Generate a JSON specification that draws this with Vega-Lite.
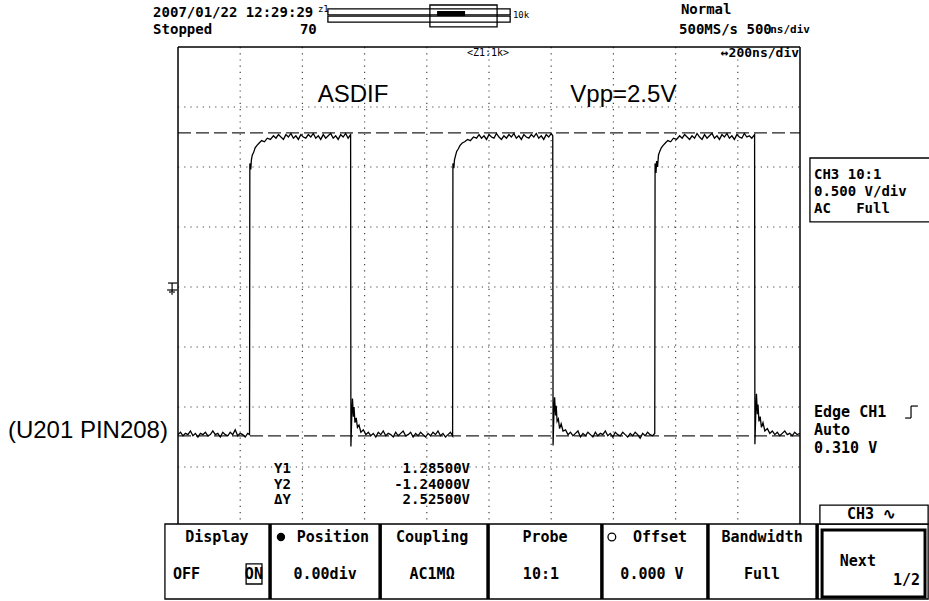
{
  "$schema": "https://vega.github.io/schema/vega-lite/v6.json",
  "width": 622,
  "height": 480,
  "autosize": {"type": "none"},
  "padding": {"left": 178, "top": 47, "right": 129, "bottom": 74},
  "background": "white",
  "config": {"view": {"stroke": null}, "text": {"font": "DejaVu Sans Mono", "fontWeight": "bold", "baseline": "middle", "fontSize": 14, "color": "black"}},
  "datasets": {
    "hgrid": [{"t":0,"t2":2000,"v":1.5},{"t":0,"t2":2000,"v":1},{"t":0,"t2":2000,"v":0.5},{"t":0,"t2":2000,"v":0},{"t":0,"t2":2000,"v":-0.5},{"t":0,"t2":2000,"v":-1},{"t":0,"t2":2000,"v":-1.5}],
    "vgrid": [{"t":200,"v":2,"v2":-2},{"t":400,"v":2,"v2":-2},{"t":600,"v":2,"v2":-2},{"t":800,"v":2,"v2":-2},{"t":1000,"v":2,"v2":-2},{"t":1200,"v":2,"v2":-2},{"t":1400,"v":2,"v2":-2},{"t":1600,"v":2,"v2":-2},{"t":1800,"v":2,"v2":-2}],
    "cursors": [{"t":0,"t2":2000,"v":1.285},{"t":0,"t2":2000,"v":-1.24}],
    "frame": [{"t":0,"t2":2000,"v":2,"v2":2},{"t":0,"t2":0,"v":2,"v2":-1.975},{"t":2000,"t2":2000,"v":2,"v2":-1.975}],
    "wave": [
      {"t":0,"v":-1.23},{"t":8,"v":-1.21},{"t":16,"v":-1.24},{"t":24,"v":-1.22},{"t":32,"v":-1.23},{"t":40,"v":-1.20},{"t":48,"v":-1.24},{"t":56,"v":-1.22},{"t":64,"v":-1.25},{"t":72,"v":-1.22},{"t":80,"v":-1.23},{"t":88,"v":-1.21},{"t":96,"v":-1.24},{"t":104,"v":-1.23},{"t":112,"v":-1.20},{"t":120,"v":-1.23},{"t":128,"v":-1.22},{"t":136,"v":-1.25},{"t":144,"v":-1.21},{"t":152,"v":-1.23},{"t":160,"v":-1.24},{"t":168,"v":-1.21},{"t":176,"v":-1.23},{"t":184,"v":-1.19},{"t":192,"v":-1.24},{"t":200,"v":-1.22},{"t":208,"v":-1.23},{"t":216,"v":-1.25},{"t":224,"v":-1.22},{"t":230,"v":-1.23},
      {"t":231,"v":1.03},{"t":234,"v":0.98},{"t":236,"v":1.06},{"t":239,"v":1.10},{"t":243,"v":1.12},{"t":248,"v":1.16},{"t":254,"v":1.18},{"t":261,"v":1.20},{"t":269,"v":1.22},{"t":278,"v":1.21},{"t":287,"v":1.24},{"t":297,"v":1.23},{"t":307,"v":1.26},
      {"t":315,"v":1.24},{"t":323,"v":1.27},{"t":331,"v":1.25},{"t":339,"v":1.23},{"t":347,"v":1.27},{"t":355,"v":1.25},{"t":363,"v":1.28},{"t":371,"v":1.24},{"t":379,"v":1.26},{"t":387,"v":1.23},{"t":395,"v":1.27},{"t":403,"v":1.25},{"t":411,"v":1.24},{"t":419,"v":1.27},{"t":427,"v":1.25},{"t":435,"v":1.28},{"t":443,"v":1.24},{"t":451,"v":1.26},{"t":459,"v":1.23},{"t":467,"v":1.27},{"t":475,"v":1.24},{"t":483,"v":1.26},{"t":491,"v":1.28},{"t":499,"v":1.24},{"t":507,"v":1.26},{"t":515,"v":1.23},{"t":523,"v":1.27},{"t":531,"v":1.25},{"t":539,"v":1.28},{"t":547,"v":1.24},{"t":555,"v":1.27},
      {"t":556,"v":-1.33},{"t":559,"v":-1.05},{"t":561,"v":-0.93},{"t":564,"v":-1.08},{"t":566,"v":-1.00},{"t":569,"v":-1.13},{"t":573,"v":-1.09},{"t":577,"v":-1.17},{"t":582,"v":-1.15},{"t":588,"v":-1.21},{"t":596,"v":-1.19},{"t":604,"v":-1.23},
      {"t":612,"v":-1.21},{"t":620,"v":-1.24},{"t":628,"v":-1.22},{"t":636,"v":-1.25},{"t":644,"v":-1.21},{"t":652,"v":-1.23},{"t":660,"v":-1.20},{"t":668,"v":-1.24},{"t":676,"v":-1.22},{"t":684,"v":-1.23},{"t":692,"v":-1.25},{"t":700,"v":-1.21},{"t":708,"v":-1.24},{"t":716,"v":-1.22},{"t":724,"v":-1.20},{"t":732,"v":-1.24},{"t":740,"v":-1.23},{"t":748,"v":-1.21},{"t":756,"v":-1.25},{"t":764,"v":-1.22},{"t":772,"v":-1.24},{"t":780,"v":-1.21},{"t":788,"v":-1.23},{"t":796,"v":-1.25},{"t":804,"v":-1.22},{"t":812,"v":-1.24},{"t":820,"v":-1.21},{"t":828,"v":-1.23},{"t":836,"v":-1.20},{"t":844,"v":-1.24},{"t":852,"v":-1.22},{"t":860,"v":-1.25},{"t":868,"v":-1.23},{"t":876,"v":-1.21},{"t":883,"v":-1.24},
      {"t":884,"v":1.03},{"t":887,"v":0.99},{"t":889,"v":1.06},{"t":892,"v":1.09},{"t":896,"v":1.13},{"t":901,"v":1.15},{"t":907,"v":1.18},{"t":914,"v":1.20},{"t":922,"v":1.21},{"t":931,"v":1.23},{"t":940,"v":1.22},{"t":950,"v":1.25},{"t":960,"v":1.24},
      {"t":968,"v":1.27},{"t":976,"v":1.24},{"t":984,"v":1.26},{"t":992,"v":1.23},{"t":1000,"v":1.27},{"t":1008,"v":1.25},{"t":1016,"v":1.24},{"t":1024,"v":1.28},{"t":1032,"v":1.25},{"t":1040,"v":1.23},{"t":1048,"v":1.26},{"t":1056,"v":1.24},{"t":1064,"v":1.27},{"t":1072,"v":1.25},{"t":1080,"v":1.28},{"t":1088,"v":1.24},{"t":1096,"v":1.26},{"t":1104,"v":1.23},{"t":1112,"v":1.27},{"t":1120,"v":1.25},{"t":1128,"v":1.24},{"t":1136,"v":1.27},{"t":1144,"v":1.25},{"t":1152,"v":1.28},{"t":1160,"v":1.24},{"t":1168,"v":1.26},{"t":1176,"v":1.23},{"t":1184,"v":1.27},{"t":1192,"v":1.25},{"t":1200,"v":1.28},{"t":1205,"v":1.26},
      {"t":1206,"v":-1.32},{"t":1209,"v":-1.02},{"t":1211,"v":-0.92},{"t":1214,"v":-1.07},{"t":1216,"v":-0.99},{"t":1219,"v":-1.12},{"t":1223,"v":-1.10},{"t":1227,"v":-1.18},{"t":1232,"v":-1.14},{"t":1238,"v":-1.20},{"t":1246,"v":-1.19},{"t":1254,"v":-1.23},
      {"t":1262,"v":-1.21},{"t":1270,"v":-1.24},{"t":1278,"v":-1.22},{"t":1286,"v":-1.20},{"t":1294,"v":-1.25},{"t":1302,"v":-1.22},{"t":1310,"v":-1.24},{"t":1318,"v":-1.21},{"t":1326,"v":-1.23},{"t":1334,"v":-1.25},{"t":1342,"v":-1.21},{"t":1350,"v":-1.24},{"t":1358,"v":-1.22},{"t":1366,"v":-1.23},{"t":1374,"v":-1.20},{"t":1382,"v":-1.24},{"t":1390,"v":-1.22},{"t":1398,"v":-1.25},{"t":1406,"v":-1.21},{"t":1414,"v":-1.23},{"t":1422,"v":-1.24},{"t":1430,"v":-1.21},{"t":1438,"v":-1.23},{"t":1446,"v":-1.25},{"t":1454,"v":-1.22},{"t":1462,"v":-1.24},{"t":1470,"v":-1.21},{"t":1478,"v":-1.23},{"t":1486,"v":-1.26},{"t":1494,"v":-1.22},{"t":1502,"v":-1.24},{"t":1510,"v":-1.21},{"t":1518,"v":-1.23},{"t":1526,"v":-1.24},{"t":1533,"v":-1.22},
      {"t":1534,"v":1.03},{"t":1537,"v":0.95},{"t":1539,"v":1.05},{"t":1542,"v":1.00},{"t":1545,"v":1.10},{"t":1549,"v":1.13},{"t":1554,"v":1.16},{"t":1560,"v":1.18},{"t":1567,"v":1.20},{"t":1575,"v":1.22},{"t":1584,"v":1.21},{"t":1593,"v":1.24},{"t":1603,"v":1.23},{"t":1613,"v":1.26},
      {"t":1621,"v":1.24},{"t":1629,"v":1.27},{"t":1637,"v":1.25},{"t":1645,"v":1.23},{"t":1653,"v":1.26},{"t":1661,"v":1.24},{"t":1669,"v":1.28},{"t":1677,"v":1.25},{"t":1685,"v":1.23},{"t":1693,"v":1.27},{"t":1701,"v":1.24},{"t":1709,"v":1.26},{"t":1717,"v":1.28},{"t":1725,"v":1.24},{"t":1733,"v":1.26},{"t":1741,"v":1.23},{"t":1749,"v":1.27},{"t":1757,"v":1.25},{"t":1765,"v":1.28},{"t":1773,"v":1.24},{"t":1781,"v":1.26},{"t":1789,"v":1.23},{"t":1797,"v":1.27},{"t":1805,"v":1.25},{"t":1813,"v":1.24},{"t":1821,"v":1.28},{"t":1829,"v":1.25},{"t":1837,"v":1.26},{"t":1845,"v":1.24},{"t":1854,"v":1.27},
      {"t":1855,"v":-1.31},{"t":1858,"v":-1.03},{"t":1860,"v":-0.89},{"t":1863,"v":-1.06},{"t":1865,"v":-0.98},{"t":1868,"v":-1.12},{"t":1872,"v":-1.08},{"t":1876,"v":-1.17},{"t":1881,"v":-1.13},{"t":1887,"v":-1.20},{"t":1895,"v":-1.18},{"t":1903,"v":-1.22},
      {"t":1911,"v":-1.20},{"t":1919,"v":-1.23},{"t":1927,"v":-1.21},{"t":1935,"v":-1.24},{"t":1943,"v":-1.22},{"t":1951,"v":-1.20},{"t":1959,"v":-1.23},{"t":1967,"v":-1.22},{"t":1975,"v":-1.24},{"t":1983,"v":-1.21},{"t":1991,"v":-1.23},{"t":2000,"v":-1.22}
    ],
    "boxes": [
      {"t":-42,"t2":2412,"v":-1.975,"v2":-2.6},
      {"t":2032,"t2":2424,"v":1.075,"v2":0.542},
      {"t":2064,"t2":2412,"v":-1.817,"v2":-1.975},
      {"t":219,"t2":270,"v":-2.308,"v2":-2.475},
      {"t":482,"t2":1068,"v":2.317,"v2":2.267},
      {"t":482,"t2":1068,"v":2.258,"v2":2.208}
    ],
    "windowbox": [{"t":810,"t2":1026,"v":2.35,"v2":2.167}],
    "blackbar": [{"t":833,"t2":923,"v":2.3,"v2":2.258}],
    "nextbtn": [{"t":2071,"t2":2402,"v":-2.025,"v2":-2.583}],
    "dividers": [{"t":296,"v":-1.975,"v2":-2.6},{"t":650,"v":-1.975,"v2":-2.6},{"t":997,"v":-1.975,"v2":-2.6},{"t":1363,"v":-1.975,"v2":-2.6},{"t":1704,"v":-1.975,"v2":-2.6},{"t":2055,"v":-1.975,"v2":-2.6}],
    "symbols": [
      {"t":-19,"t2":-19,"v":0.033,"v2":-0.042},
      {"t":-32,"t2":-3,"v":0.033,"v2":0.033},
      {"t":-35,"t2":-3,"v":-0.025,"v2":-0.025},
      {"t":-29,"t2":-10,"v":-0.042,"v2":-0.042},
      {"t":-22,"t2":-16,"v":-0.058,"v2":-0.058},
      {"t":2338,"t2":2357,"v":-1.092,"v2":-1.092},
      {"t":2357,"t2":2357,"v":-1.092,"v2":-0.992},
      {"t":2357,"t2":2379,"v":-0.992,"v2":-0.992}
    ],
    "iconFilled": [{"t":331,"v":-2.083}],
    "iconOpen": [{"t":1395,"v":-2.083}],
    "textLeft": [
      {"t":-80,"v":2.283,"label":"2007/01/22 12:29:29"},
      {"t":-80,"v":2.142,"label":"Stopped"},
      {"t":392,"v":2.142,"label":"70"},
      {"t":1617,"v":2.308,"label":"Normal"},
      {"t":1611,"v":2.142,"label":"500MS/s 500"}
    ],
    "panelLeft": [
      {"t":2045,"v":0.933,"label":"CH3 10:1"},
      {"t":2045,"v":0.792,"label":"0.500 V/div"},
      {"t":2045,"v":0.65,"label":"AC\u00a0\u00a0\u00a0Full"}
    ],
    "edgeLeft": [
      {"t":2045,"v":-1.042,"label":"Edge CH1"},
      {"t":2045,"v":-1.192,"label":"Auto"},
      {"t":2045,"v":-1.342,"label":"0.310 V"}
    ],
    "textRight": [
      {"t":363,"v":-1.517,"label":"Y1"},
      {"t":363,"v":-1.65,"label":"Y2"},
      {"t":363,"v":-1.775,"label":"ΔY"},
      {"t":939,"v":-1.517,"label":"1.28500V"},
      {"t":939,"v":-1.65,"label":"-1.24000V"},
      {"t":939,"v":-1.775,"label":"2.52500V"}
    ],
    "menuCenter": [
      {"t":125,"v":-2.083,"label":"Display"},
      {"t":244,"v":-2.392,"label":"ON"},
      {"t":498,"v":-2.083,"label":"Position"},
      {"t":473,"v":-2.392,"label":"0.00div"},
      {"t":817,"v":-2.083,"label":"Coupling"},
      {"t":817,"v":-2.392,"label":"AC1MΩ"},
      {"t":1180,"v":-2.083,"label":"Probe"},
      {"t":1167,"v":-2.392,"label":"10:1"},
      {"t":1550,"v":-2.083,"label":"Offset"},
      {"t":1524,"v":-2.392,"label":"0.000 V"},
      {"t":1878,"v":-2.083,"label":"Bandwidth"},
      {"t":1878,"v":-2.392,"label":"Full"},
      {"t":2186,"v":-2.283,"label":"Next"},
      {"t":2230,"v":-1.892,"label":"CH3 ∿"}
    ],
    "menuLeft": [{"t":-16,"v":-2.392,"label":"OFF"}],
    "menuRight": [{"t":2386,"v":-2.442,"label":"1/2"}],
    "smallLeft": [{"t":450,"v":2.317,"label":"z1"},{"t":1077,"v":2.267,"label":"10k"}],
    "smallCenter": [{"t":997,"v":1.95,"label":"<Z1:1k>"}],
    "unitRight": [{"t":2032,"v":2.142,"label":"ns/div"}],
    "divLabel": [{"t":1997,"v":1.95,"label":"↔200ns/div"}],
    "notesCenter": [{"t":563,"v":1.6,"label":"ASDIF"},{"t":1432,"v":1.6,"label":"Vpp=2.5V"}],
    "notesLeft": [{"t":-547,"v":-1.2,"label":"(U201 PIN208)"}]
  },
  "encoding": {
    "x": {"field": "t", "type": "quantitative", "axis": null, "scale": {"domain": [0, 2000], "nice": false, "zero": false}},
    "y": {"field": "v", "type": "quantitative", "axis": null, "scale": {"domain": [-2, 2], "nice": false, "zero": false}}
  },
  "layer": [
    {"data": {"name": "hgrid"}, "mark": {"type": "rule", "color": "#444", "strokeWidth": 1.2, "strokeDash": [1.2, 5]}, "encoding": {"x2": {"field": "t2"}}},
    {"data": {"name": "vgrid"}, "mark": {"type": "rule", "color": "#444", "strokeWidth": 1.2, "strokeDash": [1.2, 5]}, "encoding": {"y2": {"field": "v2"}}},
    {"data": {"name": "cursors"}, "mark": {"type": "rule", "color": "#222", "strokeWidth": 1.2, "strokeDash": [13, 5]}, "encoding": {"x2": {"field": "t2"}}},
    {"data": {"name": "wave"}, "mark": {"type": "line", "color": "black", "strokeWidth": 1.3, "interpolate": "linear"}, "encoding": {}},
    {"data": {"name": "frame"}, "mark": {"type": "rule", "color": "black", "strokeWidth": 1.5}, "encoding": {"x2": {"field": "t2"}, "y2": {"field": "v2"}}},
    {"data": {"name": "boxes"}, "mark": {"type": "rect", "fill": "white", "stroke": "black", "strokeWidth": 1.3}, "encoding": {"x2": {"field": "t2"}, "y2": {"field": "v2"}}},
    {"data": {"name": "windowbox"}, "mark": {"type": "rect", "fill": null, "fillOpacity": 0, "stroke": "black", "strokeWidth": 1.3}, "encoding": {"x2": {"field": "t2"}, "y2": {"field": "v2"}}},
    {"data": {"name": "blackbar"}, "mark": {"type": "rect", "fill": "black", "stroke": null}, "encoding": {"x2": {"field": "t2"}, "y2": {"field": "v2"}}},
    {"data": {"name": "nextbtn"}, "mark": {"type": "rect", "fill": "white", "stroke": "black", "strokeWidth": 3}, "encoding": {"x2": {"field": "t2"}, "y2": {"field": "v2"}}},
    {"data": {"name": "dividers"}, "mark": {"type": "rule", "color": "black", "strokeWidth": 3.5}, "encoding": {"y2": {"field": "v2"}}},
    {"data": {"name": "symbols"}, "mark": {"type": "rule", "color": "black", "strokeWidth": 1.2}, "encoding": {"x2": {"field": "t2"}, "y2": {"field": "v2"}}},
    {"data": {"name": "iconFilled"}, "mark": {"type": "point", "filled": true, "color": "black", "size": 70, "opacity": 1}, "encoding": {}},
    {"data": {"name": "iconOpen"}, "mark": {"type": "point", "filled": false, "color": "black", "size": 60, "strokeWidth": 1.3, "opacity": 1}, "encoding": {}},
    {"data": {"name": "textLeft"}, "mark": {"type": "text", "align": "left", "fontSize": 14}, "encoding": {"text": {"field": "label"}}},
    {"data": {"name": "panelLeft"}, "mark": {"type": "text", "align": "left", "fontSize": 14}, "encoding": {"text": {"field": "label"}}},
    {"data": {"name": "edgeLeft"}, "mark": {"type": "text", "align": "left", "fontSize": 15}, "encoding": {"text": {"field": "label"}}},
    {"data": {"name": "textRight"}, "mark": {"type": "text", "align": "right", "fontSize": 14}, "encoding": {"text": {"field": "label"}}},
    {"data": {"name": "menuCenter"}, "mark": {"type": "text", "align": "center", "fontSize": 15}, "encoding": {"text": {"field": "label"}}},
    {"data": {"name": "menuLeft"}, "mark": {"type": "text", "align": "left", "fontSize": 15}, "encoding": {"text": {"field": "label"}}},
    {"data": {"name": "menuRight"}, "mark": {"type": "text", "align": "right", "fontSize": 15}, "encoding": {"text": {"field": "label"}}},
    {"data": {"name": "smallLeft"}, "mark": {"type": "text", "align": "left", "fontSize": 9, "fontWeight": "normal"}, "encoding": {"text": {"field": "label"}}},
    {"data": {"name": "smallCenter"}, "mark": {"type": "text", "align": "center", "fontSize": 10, "fontWeight": "normal"}, "encoding": {"text": {"field": "label"}}},
    {"data": {"name": "unitRight"}, "mark": {"type": "text", "align": "right", "fontSize": 11}, "encoding": {"text": {"field": "label"}}},
    {"data": {"name": "divLabel"}, "mark": {"type": "text", "align": "right", "fontSize": 13}, "encoding": {"text": {"field": "label"}}},
    {"data": {"name": "notesCenter"}, "mark": {"type": "text", "align": "center", "fontSize": 24, "font": "Liberation Sans", "fontWeight": "normal"}, "encoding": {"text": {"field": "label"}}},
    {"data": {"name": "notesLeft"}, "mark": {"type": "text", "align": "left", "fontSize": 24, "font": "Liberation Sans", "fontWeight": "normal"}, "encoding": {"text": {"field": "label"}}}
  ]
}
